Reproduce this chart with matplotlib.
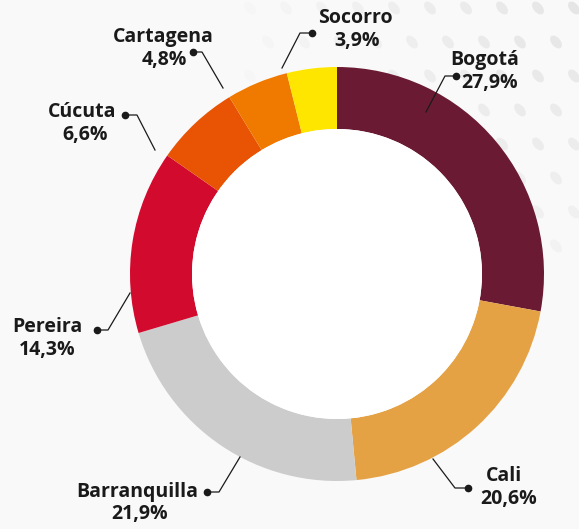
import matplotlib.pyplot as plt
from matplotlib.patches import Circle, Ellipse

# shares per city, clockwise from 12 o'clock
cities = ['Bogotá', 'Cali', 'Barranquilla', 'Pereira', 'Cúcuta', 'Cartagena', 'Socorro']
shares = [27.9, 20.6, 21.9, 14.3, 6.6, 4.8, 3.9]
colors = ['#6b1a33', '#e5a244', '#cccccc', '#d20a2e', '#e85403', '#f07a00', '#ffe600']

# name centre, value centre, dot, elbow, ring end (pixel coords, y down)
name_pos = [(485, 60), (504, 476), (137, 492), (47, 327), (82, 112), (163, 37), (355, 18)]
value_pos = [(490, 83), (509, 499), (140, 514), (47, 350), (85, 135), (164, 60), (357, 41)]
dots = [(456, 76), (468, 488), (207, 492), (97, 330), (125, 115), (193, 52), (312, 33)]
elbows = [(445, 76), (455, 488), (219, 492), (108, 330), (137, 115), (202, 52), (300, 33)]
ends = [(426, 112), (433, 459), (240, 457), (130, 293), (155, 150), (223, 88), (282, 68)]

W, H = 579, 529
cx, cy = 337, 274
r_out, r_in = 207, 145

plt.rcParams['font.family'] = ['Open Sans', 'DejaVu Sans']

fig = plt.figure(figsize=(W / 100, H / 100), dpi=100)
fig.patch.set_facecolor('#f9f9f9')
ax = fig.add_axes([0, 0, 1, 1])
ax.set_facecolor('#f9f9f9')

def fy(y):
    return H - y

# faint dotted texture in the top right corner
for i in range(10):
    for j in range(8):
        x = 250 + i * 36 + (j % 2) * 18
        y = 8 + j * 34
        fade = max(0.0, 1 - ((x - W) ** 2 + y ** 2) ** 0.5 / 380)
        if fade > 0.05:
            ax.add_patch(Ellipse((x, fy(y)), 15, 9, angle=-50, color='#d8d8d8',
                                 alpha=0.6 * fade, lw=0, zorder=0))

ax.pie(shares, colors=colors, startangle=90, counterclock=False,
       center=(cx, fy(cy)), radius=r_out,
       wedgeprops=dict(width=r_out - r_in, linewidth=0))
ax.add_patch(Circle((cx, fy(cy)), r_in, color='white', lw=0, zorder=3))

for name, val, npos, vpos, d, e, t in zip(cities, shares, name_pos, value_pos, dots, elbows, ends):
    ax.plot([d[0], e[0], t[0]], [fy(d[1]), fy(e[1]), fy(t[1])], color='#1a1a1a', lw=0.9, zorder=4)
    ax.plot(d[0], fy(d[1]), 'o', color='#1a1a1a', ms=4.5, zorder=5)
    ax.text(npos[0], fy(npos[1]), name, ha='center', va='center', fontsize=14,
            fontweight='bold', color='#1a1a1a', zorder=5)
    ax.text(vpos[0], fy(vpos[1]), ('%.1f' % val).replace('.', ',') + '%', ha='center',
            va='center', fontsize=14, fontweight='bold', color='#1a1a1a', zorder=5)

ax.set_xlim(0, W)
ax.set_ylim(0, H)
ax.set_aspect('auto')
ax.axis('off')

fig.savefig('out.png', dpi=100, facecolor=fig.get_facecolor())
